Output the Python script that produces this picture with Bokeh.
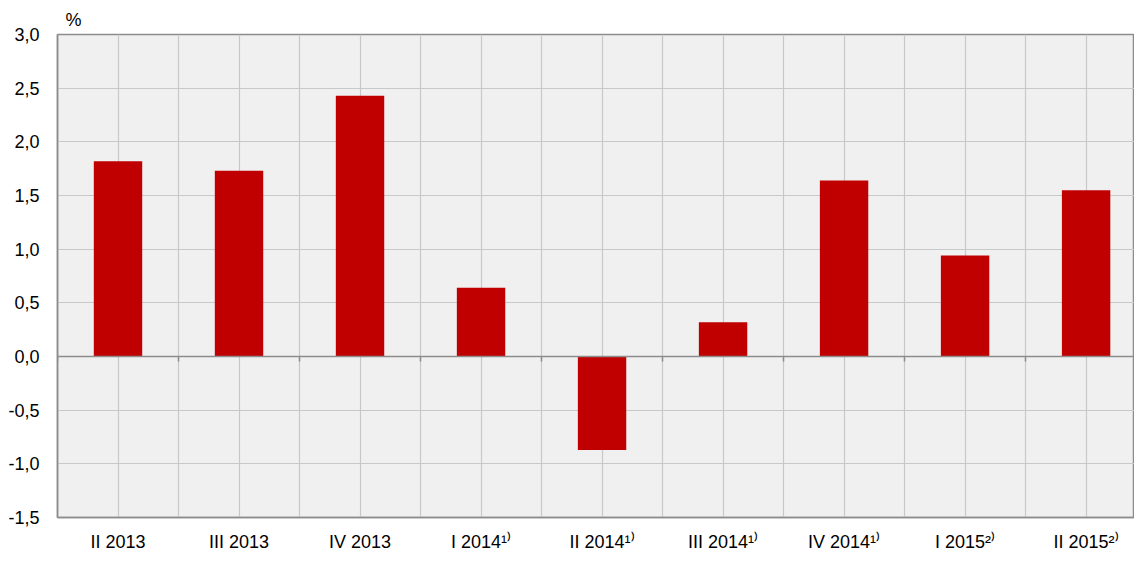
import numpy as np
from bokeh.plotting import figure
from bokeh.models import Range1d, FixedTicker, LinearAxis, ColumnDataSource
from bokeh.embed import file_html
from bokeh.resources import INLINE

categories = ["II 2013", "III 2013", "IV 2013", "I 2014¹⁾", "II 2014¹⁾",
              "III 2014¹⁾", "IV 2014¹⁾", "I 2015²⁾", "II 2015²⁾"]
values = [1.82, 1.73, 2.43, 0.64, -0.87, 0.32, 1.64, 0.94, 1.55]
y_ticks = [-1.5, -1.0, -0.5, 0.0, 0.5, 1.0, 1.5, 2.0, 2.5, 3.0]

FONT = "Liberation Sans"
GRID = "#c8c8c8"
AXIS = "#8c8c8c"

n = len(categories)
centers = [i + 0.5 for i in range(n)]

p = figure(width=1134, height=554, output_backend="svg", toolbar_location=None,
           x_range=Range1d(0, 8.9), y_range=Range1d(-1.5, 3.0),
           x_axis_location="below", min_border_left=57, min_border_top=34,
           min_border_right=0, min_border_bottom=0)
p.background_fill_color = "#f0f0f0"
p.border_fill_color = "white"
p.outline_line_color = AXIS
p.outline_line_width = 1.5

src = ColumnDataSource(dict(x=centers, top=values))
p.vbar(x="x", top="top", bottom=0, width=0.4, source=src,
       fill_color="#c00000", line_color=None)

# grids
p.xgrid.ticker = FixedTicker(ticks=[i * 0.5 for i in range(2 * n + 1)])
p.ygrid.ticker = FixedTicker(ticks=y_ticks)
for g in (p.xgrid, p.ygrid):
    g.grid_line_color = GRID
    g.grid_line_width = 1.2
p.xgrid.level = "underlay"
p.ygrid.level = "underlay"

# bottom axis with category labels
xa = p.xaxis[0]
xa.ticker = FixedTicker(ticks=centers)
xa.major_label_overrides = {c: lab for c, lab in zip(centers, categories)}
xa.major_tick_line_color = None
xa.minor_tick_line_color = None
xa.axis_line_color = AXIS
xa.axis_line_width = 1.5
xa.major_label_standoff = 8
xa.major_label_text_font = FONT
xa.major_label_text_font_size = "18px"
xa.major_label_text_color = "black"

# y axis
ya = p.yaxis[0]
ya.ticker = FixedTicker(ticks=y_ticks)
ya.major_label_overrides = {t: f"{t:.1f}".replace(".", ",") for t in y_ticks}
ya.major_tick_line_color = None
ya.minor_tick_line_color = None
ya.axis_line_color = AXIS
ya.axis_line_width = 1.5
ya.major_label_standoff = 12
ya.major_label_text_font = FONT
ya.major_label_text_font_size = "18px"
ya.major_label_text_color = "black"

# zero line axis with tick marks (pointing down) at category boundaries
za = LinearAxis(fixed_location=0)
za.ticker = FixedTicker(ticks=list(range(n + 1)))
za.major_label_overrides = {i: "" for i in range(n + 1)}
za.major_label_text_font_size = "1px"
za.major_label_standoff = 0
za.major_tick_out = 0
za.major_tick_in = 5
za.major_tick_line_color = AXIS
za.major_tick_line_width = 1.5
za.minor_tick_line_color = None
za.axis_line_color = AXIS
za.axis_line_width = 1.5
p.add_layout(za, "above")

p.title.text = "%"
p.title.text_font = FONT
p.title.text_font_size = "18px"
p.title.text_font_style = "normal"
p.title.text_color = "black"
p.title.offset = 8

open("out.html", "w").write(file_html(p, INLINE))
